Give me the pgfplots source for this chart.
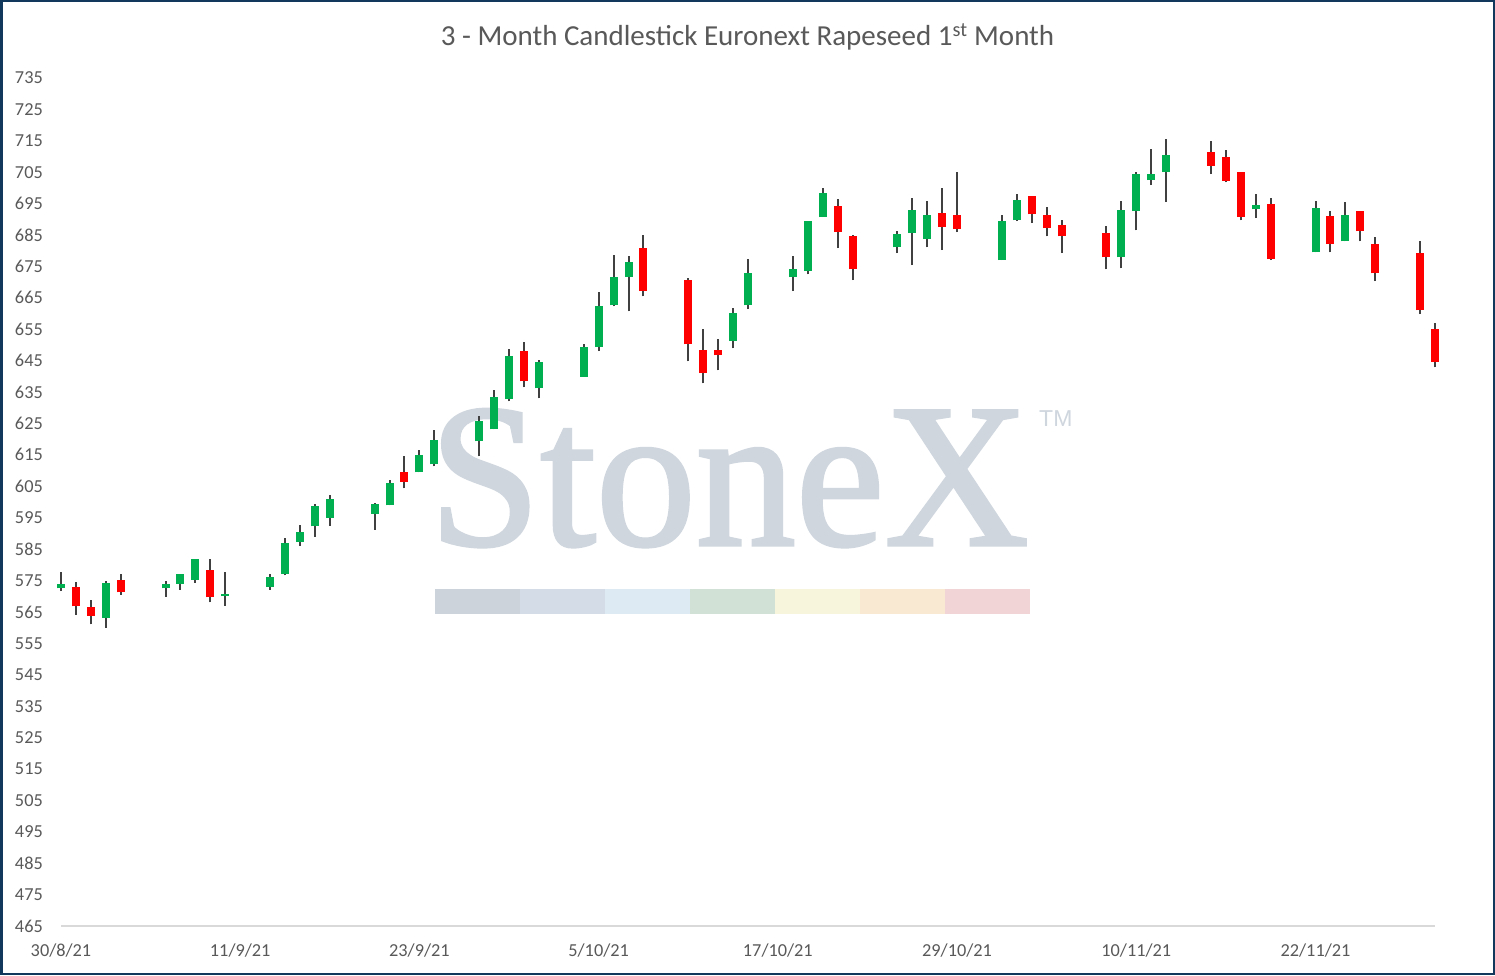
\documentclass[border=0pt]{standalone}
\usepackage{pgfplots}
\usepackage{pgfplotstable}
\pgfplotsset{compat=1.18}
\usepackage{fontspec}
\setmainfont{Carlito}
\newfontfamily\wmfont[FakeBold=1.6]{Liberation Serif}
\newfontfamily\tmfont{Liberation Sans}
\definecolor{upc}{HTML}{00B050}
\definecolor{dnc}{HTML}{FF0000}
\definecolor{wick}{HTML}{404040}
\definecolor{txt}{HTML}{595959}
\definecolor{axl}{HTML}{D9D9D9}
\definecolor{frame}{HTML}{12385B}
\definecolor{wm}{HTML}{CFD6DE}
\definecolor{b1}{HTML}{CDD3DB}
\definecolor{b2}{HTML}{D3DCE7}
\definecolor{b3}{HTML}{DDEAF4}
\definecolor{b4}{HTML}{D2E1D6}
\definecolor{b5}{HTML}{F7F6DC}
\definecolor{b6}{HTML}{F9E8D2}
\definecolor{b7}{HTML}{F0D4D6}

% day index (0 = 30/8/21), open, high, low, close
\pgfplotstableread{
d o h l c
0 572.5 577.8 571.6 574.0
3 563.2 575.0 560.0 574.3
7 572.5 575.0 569.9 574.0
8 574.0 577.2 572.0 577.0
9 575.3 582.0 574.3 581.7
11 570.0 577.8 567.0 570.8
14 573.0 577.2 572.0 576.0
15 577.0 588.4 576.6 587.0
16 587.4 592.8 586.1 590.3
17 592.2 599.5 589.0 598.6
18 595.0 602.1 592.5 600.8
21 596.3 599.8 591.2 599.5
22 598.9 606.9 598.9 606.2
24 609.4 616.7 609.4 615.1
25 612.0 622.8 611.3 619.6
28 619.3 627.3 614.5 625.7
29 623.1 635.5 623.1 633.3
30 632.7 648.6 632.0 646.4
32 636.2 645.1 633.0 644.5
35 639.8 650.2 639.8 649.2
36 649.3 666.8 648.0 662.3
37 662.6 678.6 662.3 671.6
38 671.6 678.3 660.7 676.3
45 651.2 661.7 648.9 660.1
46 662.6 677.3 661.4 672.8
49 671.6 678.3 667.1 674.1
50 673.5 689.5 672.5 689.4
51 690.7 699.9 690.7 698.3
56 681.1 686.2 679.2 685.3
57 685.6 696.7 675.4 692.9
58 683.7 695.8 681.1 691.3
63 677.0 691.3 677.0 689.4
64 689.7 698.0 689.4 696.1
71 677.9 695.8 674.4 692.9
72 692.6 705.0 686.5 704.4
73 702.5 712.4 700.9 704.4
74 705.0 715.6 695.5 710.5
80 693.2 698.0 690.4 694.5
84 679.5 695.8 679.5 693.6
86 683.0 695.5 683.0 691.3
}\up

\pgfplotstableread{
d o h l c
1 573.0 574.6 564.1 566.8
2 566.7 568.9 561.0 563.8
4 575.3 577.2 570.5 571.2
10 578.5 582.0 568.0 569.6
23 609.7 614.8 604.3 606.5
31 648.0 650.8 636.5 638.4
39 680.8 685.0 665.5 667.1
42 670.6 671.2 644.8 650.2
43 648.3 655.0 637.8 641.0
44 648.3 651.8 641.9 646.7
52 694.2 696.4 680.8 685.9
53 684.6 685.0 670.6 674.1
59 692.0 700.0 680.2 687.5
60 691.3 705.0 685.9 686.9
65 697.4 697.4 688.8 691.6
66 691.3 693.9 684.6 687.2
67 688.1 689.7 679.2 684.6
70 685.6 687.8 674.1 677.9
77 711.4 714.9 704.4 707.0
78 709.8 712.0 701.8 702.2
79 705.0 705.0 689.7 690.7
81 694.8 696.7 677.0 677.3
85 691.0 692.6 679.5 682.1
87 692.6 692.6 683.0 686.2
88 682.1 684.3 670.3 672.8
91 679.2 683.0 659.8 661.0
92 655.0 656.9 642.9 644.5
}\dn

\begin{document}
\begin{tikzpicture}[x=1bp,y=1bp]
\useasboundingbox (0,0) rectangle (1495,975);
\fill[white] (0,0) rectangle (1495,975);
% watermark
\node[anchor=base west, inner sep=0pt, text=wm, font=\wmfont\fontsize{205bp}{205bp}\selectfont, xscale=0.975] at (429,430) {StoneX};
\node[anchor=base west, inner sep=0pt, text=wm, font=\tmfont\fontsize{23bp}{23bp}\selectfont] at (1039,548) {TM};
\foreach \c [count=\i from 0] in {b1,b2,b3,b4,b5,b6,b7}{
  \fill[\c] (435+85*\i,361) rectangle (435+85*\i+85,386);
}
\begin{axis}[
  at={(61bp,49bp)}, anchor=south west,
  scale only axis, width=1374bp, height=848bp,
  xmin=0, xmax=92, ymin=465, ymax=735,
  clip=false,
  axis x line*=bottom, axis y line*=left,
  x axis line style={draw=axl, line width=2bp},
  y axis line style={draw=none},
  major tick length=0pt,
  xtick={0,12,24,36,48,60,72,84},
  xticklabels={30/8/21,11/9/21,23/9/21,5/10/21,17/10/21,29/10/21,10/11/21,22/11/21},
  ytick={465,475,...,735},
  /pgf/number format/assume math mode=true,
  /pgf/number format/1000 sep={},
  tick label style={text=txt, font=\fontsize{18.3bp}{20bp}\selectfont, inner sep=0pt},
  xticklabel style={anchor=base, yshift=-30bp},
  yticklabel style={anchor=east, xshift=-18bp},
]
% wicks
\addplot[draw=none, mark=none, forget plot,
  error bars/.cd, y dir=plus, y explicit, error mark=none,
  error bar style={line width=2bp, draw=wick, line cap=butt, solid}]
  table[x=d, y=l, y error plus expr=\thisrow{h}-\thisrow{l}] {\up};
\addplot[draw=none, mark=none, forget plot,
  error bars/.cd, y dir=plus, y explicit, error mark=none,
  error bar style={line width=2bp, draw=wick, line cap=butt, solid}]
  table[x=d, y=l, y error plus expr=\thisrow{h}-\thisrow{l}] {\dn};
% bodies
\addplot[draw=none, mark=none, forget plot,
  error bars/.cd, y dir=plus, y explicit, error mark=none,
  error bar style={line width=8bp, draw=upc, line cap=butt, solid}]
  table[x=d, y=o, y error plus expr=\thisrow{c}-\thisrow{o}] {\up};
\addplot[draw=none, mark=none, forget plot,
  error bars/.cd, y dir=plus, y explicit, error mark=none,
  error bar style={line width=8bp, draw=dnc, line cap=butt, solid}]
  table[x=d, y=c, y error plus expr=\thisrow{o}-\thisrow{c}] {\dn};
\end{axis}
\node[anchor=base, inner sep=0pt, text=txt, font=\fontsize{29bp}{30bp}\selectfont] at (747.5,929) {3 - Month Candlestick Euronext Rapeseed 1\textsuperscript{st} Month};
\draw[frame, line width=2.5bp] (1.25,1.25) rectangle (1493.75,973.75);
\end{tikzpicture}
\end{document}
